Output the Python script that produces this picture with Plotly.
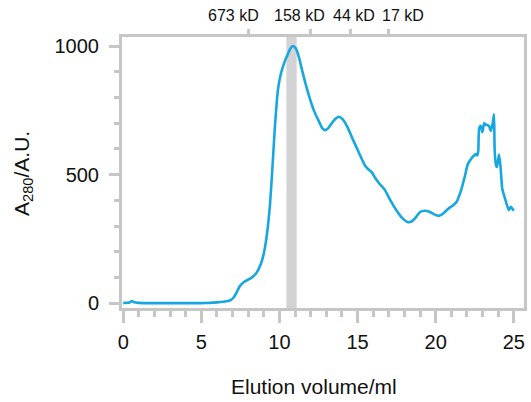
import plotly.graph_objects as go

# Size-exclusion chromatogram: absorbance at 280 nm vs elution volume
elution_ml = [0.0, 0.4, 0.55, 0.7, 1.0, 2.0, 3.0, 4.0, 5.0, 5.5, 6.0, 6.6, 6.9, 7.05,
              7.25, 7.45, 7.75, 8.15, 8.5, 8.8, 9.0, 9.2, 9.4, 9.55, 9.7, 9.85, 9.95,
              10.1, 10.25, 10.4, 10.55, 10.7, 10.87, 11.05, 11.25, 11.45, 11.67, 11.95,
              12.2, 12.5, 12.75, 12.93, 13.15, 13.5, 13.8, 14.05, 14.35, 14.63, 15.05,
              15.48, 15.7, 15.9, 16.15, 16.4, 16.75, 17.1, 17.5, 17.85, 18.2, 18.45,
              18.7, 19.0, 19.3, 19.6, 19.9, 20.2, 20.5, 20.8, 21.1, 21.35, 21.6, 21.85,
              22.05, 22.35, 22.56, 22.65, 22.72, 22.78, 22.88, 22.99, 23.1, 23.2,
              23.41, 23.52, 23.65, 23.73, 23.77, 23.85, 23.92, 24.05, 24.15, 24.26,
              24.47, 24.68, 24.8, 24.9, 25.0]
a280 = [2, 3, 9, 4, 2, 1, 1, 1, 1, 2, 4, 8, 14, 22,
        42, 66, 84, 97, 116, 152, 195, 270, 390, 530, 680, 800, 850,
        895, 925, 950, 970, 990, 1000, 990, 955, 905, 853, 795,
        750, 710, 680, 673, 683, 712, 725, 715, 685, 646, 590,
        535, 520, 510, 485, 465, 440, 400, 360, 332, 316, 318,
        332, 355, 360, 356, 346, 340, 350, 368, 380, 396, 435, 490,
        540, 568, 580, 575, 590, 680, 690, 665, 700, 695,
        690, 670, 700, 735, 600, 540, 530, 578, 530, 445,
        400, 362, 375, 368, 360]

# Calibration standards (elution volume of each marker)
marker_ml = [8.03, 11.99, 14.53, 17.0]
marker_labels = ["673 kD", "158 kD", "44 kD", "17 kD"]
marker_label_ml = [7.06, 11.25, 14.74, 17.91]

# Collected fraction window
fraction_ml = [10.44, 11.1]

x_ticks = [0, 5, 10, 15, 20, 25]
y_ticks = [0, 500, 1000]

frame = "#c6c6c6"
ink = "#111111"
font = "Liberation Sans, Arial, sans-serif"

fig = go.Figure()
fig.add_trace(go.Scatter(
    x=elution_ml, y=a280, mode="lines",
    line=dict(color="#17a7e0", width=2.6, shape="spline", smoothing=0.5),
    showlegend=False, hoverinfo="skip",
))
# invisible trace to activate the top (marker) axis
fig.add_trace(go.Scatter(x=[marker_ml[0]], y=[0], xaxis="x2", mode="markers",
                         marker=dict(opacity=0), showlegend=False, hoverinfo="skip"))

fig.add_shape(type="rect", xref="x", yref="paper",
              x0=fraction_ml[0], x1=fraction_ml[1], y0=0, y1=1,
              fillcolor="#d3d3d5", line=dict(width=0), layer="below")

xr = [-0.08, 25.65]
fig.update_layout(
    width=531, height=402,
    margin=dict(l=122, r=4, t=37, b=94),
    paper_bgcolor="white", plot_bgcolor="white",
    font=dict(family=font, color=ink),
    xaxis=dict(
        range=xr, showgrid=False, zeroline=False,
        showline=True, linecolor=frame, linewidth=3, mirror=True,
        tickvals=x_ticks, ticks="outside", ticklen=12, tickwidth=3, tickcolor=frame,
        tickfont=dict(size=20, family=font, color=ink),
        ticklabelstandoff=2,
        minor=dict(dtick=1, tick0=0, ticks="outside", ticklen=6, tickwidth=3, tickcolor=frame),
    ),
    xaxis2=dict(
        range=xr, overlaying="x", side="top", showgrid=False, zeroline=False,
        showline=False, tickvals=marker_ml, showticklabels=False,
        ticks="outside", ticklen=7, tickwidth=3, tickcolor=frame,
    ),
    yaxis=dict(
        range=[-18, 1035], showgrid=False, zeroline=False,
        showline=True, linecolor=frame, linewidth=3, mirror=True,
        tickvals=y_ticks, ticks="outside", ticklen=10, tickwidth=3, tickcolor=frame,
        tickfont=dict(size=20, family=font, color=ink),
        ticklabelstandoff=6,
        minor=dict(dtick=100, tick0=0, ticks="outside", ticklen=5, tickwidth=3, tickcolor=frame),
    ),
)

# marker labels above the top axis
for pos, lab in zip(marker_label_ml, marker_labels):
    fig.add_annotation(x=pos, xref="x", y=1, yref="paper", yshift=22, yanchor="middle",
                       text=lab, showarrow=False,
                       font=dict(size=16, family=font, color=ink))

fig.add_annotation(x=(315.5 - 122) / 405, xref="paper", xanchor="center",
                   y=0, yref="paper", yshift=-78, yanchor="middle",
                   text="Elution volume/ml", showarrow=False,
                   font=dict(size=21, family=font, color=ink))
fig.add_annotation(x=0, xref="paper", xshift=-99, xanchor="center",
                   y=(308 - 174) / 271, yref="paper", yanchor="middle",
                   text="A<sub>280</sub>/A.U.", textangle=-90, showarrow=False,
                   font=dict(size=21, family=font, color=ink))

fig.write_html("out.html")
